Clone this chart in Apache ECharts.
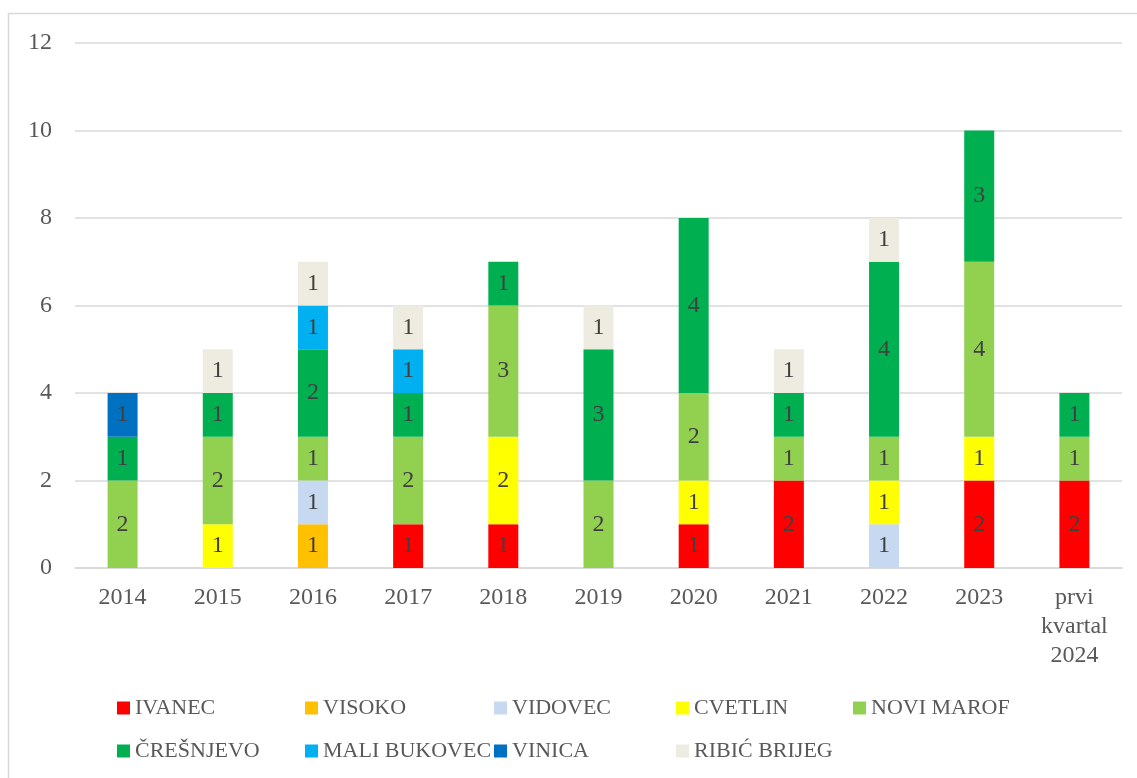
<!DOCTYPE html>
<html>
<head>
<meta charset="utf-8">
<script src="https://cdn.jsdelivr.net/npm/echarts@6/dist/echarts.min.js"></script>
<style>
html,body{margin:0;padding:0;background:#fff;}
#chart{width:1137px;height:778px;}
</style>
</head>
<body>
<div id="chart"></div>
<script>
const categories = ['2014','2015','2016','2017','2018','2019','2020','2021','2022','2023','prvi\nkvartal\n2024'];
const seriesNames = ['IVANEC','VISOKO','VIDOVEC','CVETLIN','NOVI MAROF','ČREŠNJEVO','MALI BUKOVEC','VINICA','RIBIĆ BRIJEG'];
const ivanec      = [0,0,0,1,1,0,1,2,0,2,2];
const visoko      = [0,0,1,0,0,0,0,0,0,0,0];
const vidovec     = [0,0,1,0,0,0,0,0,1,0,0];
const cvetlin     = [0,1,0,0,2,0,1,0,1,1,0];
const noviMarof   = [2,2,1,2,3,2,2,1,1,4,1];
const cresnjevo   = [1,1,2,1,1,3,4,1,4,3,1];
const maliBukovec = [0,0,1,1,0,0,0,0,0,0,0];
const vinica      = [1,0,0,0,0,0,0,0,0,0,0];
const ribicBrijeg = [0,1,1,1,0,1,0,1,1,0,0];
const yTicks = [0,2,4,6,8,10,12];

const seriesData = [ivanec, visoko, vidovec, cvetlin, noviMarof, cresnjevo, maliBukovec, vinica, ribicBrijeg];
const colors = ['#FF0000','#FFC000','#C6D9F1','#FFFF00','#92D050','#00B050','#00B0F0','#0070C0','#EEECE1'];

const FONT = 'Liberation Serif';
const FS = 24;
const LFS = 22;

const legendPos = [
  [117, 697],[305, 697],[494, 697],[676, 697],[853, 697],
  [117, 740],[305, 740],[494, 740],[676, 740]
];

const chart = echarts.init(document.getElementById('chart'), null, {renderer:'canvas'});
chart.setOption({
  animation: false,
  color: colors,
  textStyle: {fontFamily: FONT},
  graphic: [{
    type: 'rect',
    shape: {x: 8.5, y: 13.5, width: 1200, height: 900},
    style: {fill: 'none', stroke: '#D9D9D9', lineWidth: 1.5},
    silent: true, z: -1
  }],
  grid: {left: 75, right: 15, top: 43, bottom: 210, containLabel: false},
  legend: seriesNames.map((n, i) => ({
    data: [n],
    left: legendPos[i][0],
    top: legendPos[i][1],
    padding: 0,
    itemWidth: 13,
    itemHeight: 13,
    itemGap: 0,
    icon: 'rect',
    selectedMode: false,
    textStyle: {fontFamily: FONT, fontSize: LFS, color: '#595959'}
  })),
  xAxis: {
    type: 'category',
    data: categories,
    axisLine: {lineStyle: {color: '#D9D9D9', width: 1.5}},
    axisTick: {show: false},
    axisLabel: {fontFamily: FONT, fontSize: FS, color: '#595959', margin: 15, lineHeight: 29, interval: 0}
  },
  yAxis: {
    type: 'value',
    min: yTicks[0],
    max: yTicks[yTicks.length - 1],
    interval: 2,
    axisLine: {show: false},
    axisTick: {show: false},
    splitLine: {lineStyle: {color: '#D9D9D9', width: 1.5}},
    axisLabel: {fontFamily: FONT, fontSize: FS, color: '#595959', margin: 23}
  },
  series: seriesNames.map((n, i) => ({
    name: n,
    type: 'bar',
    stack: 'total',
    barWidth: 30,
    data: seriesData[i],
    itemStyle: {color: colors[i]},
    label: {
      show: true,
      position: 'inside',
      fontFamily: FONT,
      fontSize: FS,
      color: '#404040',
      formatter: p => (p.value ? String(p.value) : '')
    }
  }))
});
</script>
</body>
</html>
